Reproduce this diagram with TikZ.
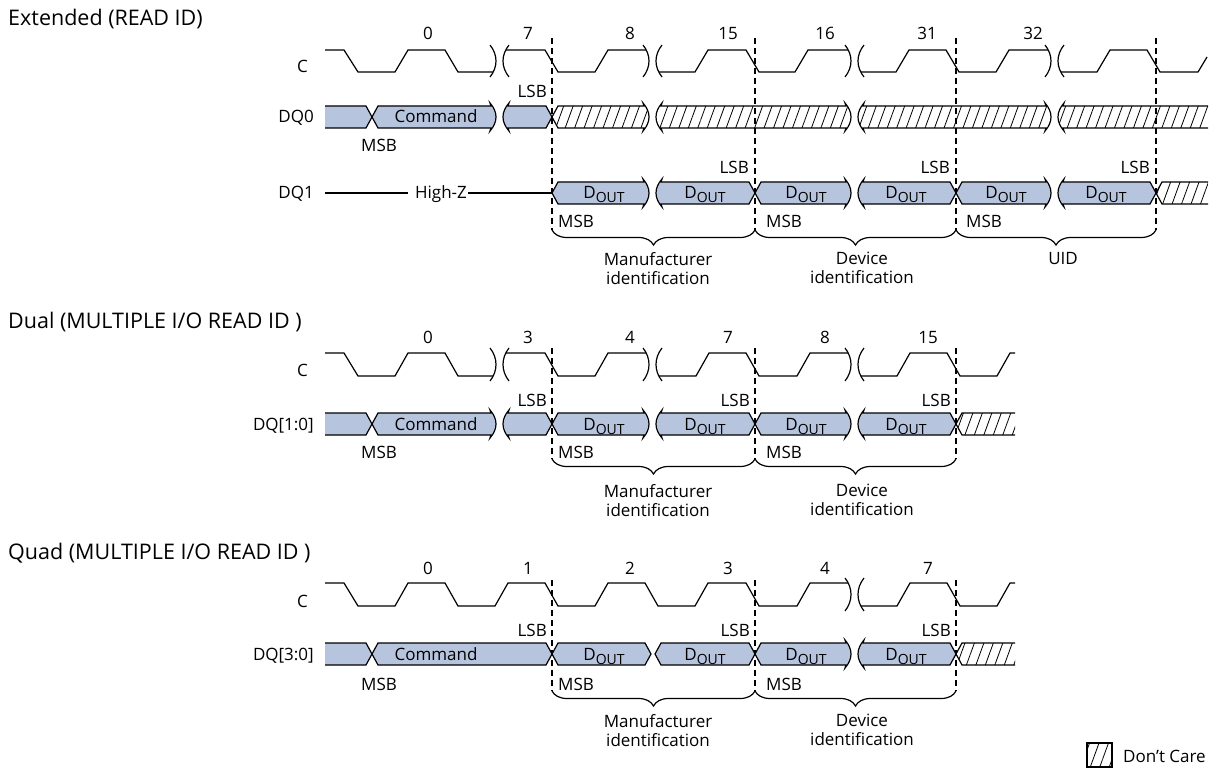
\documentclass[tikz,border=0pt]{standalone}
\usepackage{fontspec}
\setmainfont{Open Sans}
\usetikzlibrary{decorations.pathreplacing,patterns.meta}

\definecolor{busblue}{RGB}{183,196,221}

\tikzset{
  sig/.style={line width=1.2pt},
  bus/.style={sig, fill=busblue},
  dontcare/.style={sig, pattern={Lines[angle=70,distance=8.9pt,line width=0.8pt]}},
  guide/.style={line width=1.2pt, dash pattern=on 6pt off 4pt},
  lbl/.style={font=\fontsize{17}{19}\selectfont, inner sep=0pt},
  ttl/.style={font=\fontsize{21.5}{24}\selectfont, inner sep=0pt, anchor=base west},
  idbrace/.style={sig, decorate, decoration={brace, mirror, amplitude=15pt}},
}

% ends of a bus segment (x, centre line)
\newcommand{\crossL}[2]{(#1+6,#2+11) -- (#1,#2) -- (#1+6,#2-11)}
\newcommand{\crossR}[2]{-- (#1-6,#2-11) -- (#1,#2) -- (#1-6,#2+11)}
\newcommand{\breakL}[2]{(#1+1,#2+11) -- (#1+2,#2+14) .. controls (#1-6,#2+5) and (#1-6,#2-5) .. (#1+2,#2-14) -- (#1+1,#2-11)}
\newcommand{\breakR}[2]{-- (#1-1,#2-11) -- (#1-2,#2-14) .. controls (#1+6,#2-5) and (#1+6,#2+5) .. (#1-2,#2+14) -- (#1-1,#2+11)}
% break marks on the clock (x, high, low)
\newcommand{\clkbreak}[3]{%
  \draw[sig] (#1-2,#2-5) .. controls (#1+6,#2+5) and (#1+6,#3-5) .. (#1-2,#3+5);
  \draw[sig] (#1+17,#2-5) .. controls (#1+9,#2+5) and (#1+9,#3-5) .. (#1+17,#3+5);}
\newcommand{\dOut}{D\raisebox{-4pt}{\fontsize{14}{14}\selectfont OUT}}

\begin{document}
\begin{tikzpicture}[x=1pt,y=-1pt]
\useasboundingbox (0,0) rectangle (1219,770);

% ===== Extended (READ ID) =====
\node[ttl] (ttlext) at (8,26) {Extended (READ ID)};

% byte boundaries
\foreach \x in {552,755,956,1156}
  \draw[guide] (\x,38) -- (\x,230);

% clock
\draw[sig] (325,50) -- (344,50) -- (358,72) -- (395,72) -- (408,50) -- (445,50) -- (458,72) -- (493,72);
\draw[sig] (506,50) -- (545,50) -- (558,72) -- (595,72) -- (608,50) -- (646,50);
\draw[sig] (659,72) -- (695,72) -- (708,50) -- (746,50) -- (759,72) -- (795,72) -- (808,50) -- (848,50);
\draw[sig] (861,72) -- (896,72) -- (909,50) -- (946,50) -- (959,72) -- (996,72) -- (1009,50) -- (1048,50);
\draw[sig] (1061,72) -- (1097,72) -- (1110,50) -- (1147,50) -- (1160,72) -- (1198,72) -- (1207,57);
\foreach \x in {492,645,847,1047} \clkbreak{\x}{50}{72};

% DQ0
\draw[bus] (325,106) \crossR{372}{117} -- (325,128);
\draw[bus] \crossL{372}{117} \breakR{492}{117} -- cycle;
\draw[bus] \breakL{507}{117} \crossR{552}{117} -- cycle;
\draw[dontcare] \crossL{552}{117} \breakR{645}{117} -- cycle;
\draw[dontcare] \breakL{660}{117} \breakR{847}{117} -- cycle;
\draw[dontcare] \breakL{862}{117} \breakR{1047}{117} -- cycle;
\draw[dontcare] (1208,128) -- (1063,128) -- (1064,131) .. controls (1056,122) and (1056,112) .. (1064,103) -- (1063,106) -- (1208,106);

% DQ1
\node[lbl, anchor=base] (hiz) at (441,199) {High-Z};
\draw[sig] (325,193) -- (408,193);
\draw[sig] (468,193) -- (552,193);
\draw[bus] \crossL{552}{193} \breakR{645}{193} -- cycle;
\draw[bus] \breakL{660}{193} \crossR{755}{193} -- cycle;
\draw[bus] \crossL{755}{193} \breakR{847}{193} -- cycle;
\draw[bus] \breakL{862}{193} \crossR{956}{193} -- cycle;
\draw[bus] \crossL{956}{193} \breakR{1047}{193} -- cycle;
\draw[bus] \breakL{1062}{193} \crossR{1156}{193} -- cycle;
\draw[dontcare] (1208,204) -- (1162,204) -- (1156,193) -- (1162,182) -- (1208,182);

% labels
\node[lbl, anchor=base east] (cext) at (308,73) {C};
\node[lbl, anchor=base east] (dq0) at (314,123) {DQ0};
\node[lbl, anchor=base east] (dq1) at (314,199) {DQ1};
\foreach \x/\n in {428/0,528/7,630/8,728/15,825/16,927/31,1033/32}
  \node[lbl, anchor=base] (ext\n) at (\x,40) {\n};
\node[lbl, anchor=base] (cmdext) at (436,123) {Command};
\node[lbl, anchor=base] (msbext) at (379,152) {MSB};
\node[lbl, anchor=base east] (lsbext) at (547,98) {LSB};
\foreach \x in {604,705,806,906,1006,1106}
  \node[lbl, anchor=base] (doext\x) at (\x,199) {\dOut};
\foreach \x in {755,956,1156}
  \node[lbl, anchor=base east] (lsbext\x) at (\x-6,174) {LSB};
\foreach \x/\d in {552/6,755/11,956/10}
  \node[lbl, anchor=base west] (msbext\x) at (\x+\d,228) {MSB};

% fields
\draw[idbrace] (552,230) -- (755,230);
\draw[idbrace] (755,230) -- (956,230);
\draw[idbrace] (956,230) -- (1156,230);
\node[lbl, align=center, anchor=north] (mfrext) at (658,252) {Manufacturer\\identification};
\node[lbl, align=center, anchor=north] (devext) at (862,252) {Device\\identification};
\node[lbl, anchor=north] (uid) at (1063,252) {UID};

% ===== Dual (MULTIPLE I/O READ ID) =====
\node[ttl] (ttldual) at (8,328) {Dual (MULTIPLE I/O READ ID )};

\foreach \x in {552,755,956}
  \draw[guide] (\x,348) -- (\x,459);

% clock
\draw[sig] (325,353) -- (344,353) -- (358,376) -- (395,376) -- (408,353) -- (445,353) -- (458,376) -- (493,376);
\draw[sig] (506,353) -- (545,353) -- (558,376) -- (595,376) -- (608,353) -- (646,353);
\draw[sig] (659,376) -- (696,376) -- (709,353) -- (746,353) -- (759,376) -- (797,376) -- (810,353) -- (848,353);
\draw[sig] (861,376) -- (897,376) -- (910,353) -- (947,353) -- (960,376) -- (997,376) -- (1010,353) -- (1015,353);
\foreach \x in {492,645,847} \clkbreak{\x}{353}{376};

% DQ[1:0]
\draw[bus] (325,413) \crossR{372}{424} -- (325,435);
\draw[bus] \crossL{372}{424} \breakR{492}{424} -- cycle;
\draw[bus] \breakL{507}{424} \crossR{552}{424} -- cycle;
\draw[bus] \crossL{552}{424} \breakR{645}{424} -- cycle;
\draw[bus] \breakL{660}{424} \crossR{755}{424} -- cycle;
\draw[bus] \crossL{755}{424} \breakR{847}{424} -- cycle;
\draw[bus] \breakL{862}{424} \crossR{956}{424} -- cycle;
\draw[dontcare] (1015,435) -- (962,435) -- (956,424) -- (962,413) -- (1015,413);

% labels
\node[lbl, anchor=base east] (cdual) at (308,376) {C};
\node[lbl, anchor=base east] (dqdual) at (314,430) {DQ[1:0]};
\foreach \x/\n in {428/0,528/3,630/4,728/7,825/8,928/15}
  \node[lbl, anchor=base] (dual\n) at (\x,343) {\n};
\node[lbl, anchor=base] (cmddual) at (436,430) {Command};
\node[lbl, anchor=base] (msbdual) at (379,458) {MSB};
\foreach \x in {552,755,956}
  \node[lbl, anchor=base east] (lsbdual\x) at (\x-5,406) {LSB};
\foreach \x in {604,705,806,906}
  \node[lbl, anchor=base] (dodual\x) at (\x,430) {\dOut};
\foreach \x/\d in {552/6,755/11}
  \node[lbl, anchor=base west] (msbdual\x) at (\x+\d,458) {MSB};

% fields
\draw[idbrace] (552,459) -- (755,459);
\draw[idbrace] (755,459) -- (956,459);
\node[lbl, align=center, anchor=north] (mfrdual) at (658,484) {Manufacturer\\identification};
\node[lbl, align=center, anchor=north] (devdual) at (862,484) {Device\\identification};

% ===== Quad (MULTIPLE I/O READ ID) =====
\node[ttl] (ttlquad) at (8,559) {Quad (MULTIPLE I/O READ ID )};

\foreach \x in {552,755,956}
  \draw[guide] (\x,580) -- (\x,691);

% clock
\draw[sig] (325,583) -- (344,583) -- (358,606) -- (395,606) -- (408,583) -- (445,583) -- (458,606) -- (495,606) -- (508,583) -- (545,583) -- (558,606) -- (595,606) -- (608,583) -- (645,583) -- (658,606) -- (695,606) -- (708,583) -- (746,583) -- (759,606) -- (797,606) -- (810,583) -- (848,583);
\draw[sig] (861,606) -- (897,606) -- (910,583) -- (947,583) -- (960,606) -- (997,606) -- (1010,583) -- (1015,583);
\clkbreak{847}{583}{606};

% DQ[3:0]
\draw[bus] (325,643) \crossR{372}{654} -- (325,665);
\draw[bus] \crossL{372}{654} \crossR{552}{654} -- cycle;
\draw[bus] \crossL{552}{654} \crossR{651}{654} -- cycle;
\draw[bus] \crossL{655}{654} \crossR{755}{654} -- cycle;
\draw[bus] \crossL{755}{654} \breakR{847}{654} -- cycle;
\draw[bus] \breakL{862}{654} \crossR{956}{654} -- cycle;
\draw[dontcare] (1015,665) -- (962,665) -- (956,654) -- (962,643) -- (1015,643);

% labels
\node[lbl, anchor=base east] (cquad) at (308,607) {C};
\node[lbl, anchor=base east] (dqquad) at (314,660) {DQ[3:0]};
\foreach \x/\n in {428/0,528/1,630/2,728/3,825/4,928/7}
  \node[lbl, anchor=base] (quad\n) at (\x,574) {\n};
\node[lbl, anchor=base] (cmdquad) at (436,660) {Command};
\node[lbl, anchor=base] (msbquad) at (379,690) {MSB};
\foreach \x in {552,755,956}
  \node[lbl, anchor=base east] (lsbquad\x) at (\x-5,636) {LSB};
\foreach \x in {604,705,806,906}
  \node[lbl, anchor=base] (doquad\x) at (\x,660) {\dOut};
\foreach \x/\d in {552/6,755/11}
  \node[lbl, anchor=base west] (msbquad\x) at (\x+\d,690) {MSB};

% fields
\draw[idbrace] (552,691) -- (755,691);
\draw[idbrace] (755,691) -- (956,691);
\node[lbl, align=center, anchor=north] (mfrquad) at (658,714) {Manufacturer\\identification};
\node[lbl, align=center, anchor=north] (devquad) at (862,714) {Device\\identification};

% legend
\draw[dontcare] (1087,743) rectangle (1112,767);
\node[lbl, anchor=base west] (dcare) at (1123,762) {Don’t Care};

\end{tikzpicture}
\end{document}
